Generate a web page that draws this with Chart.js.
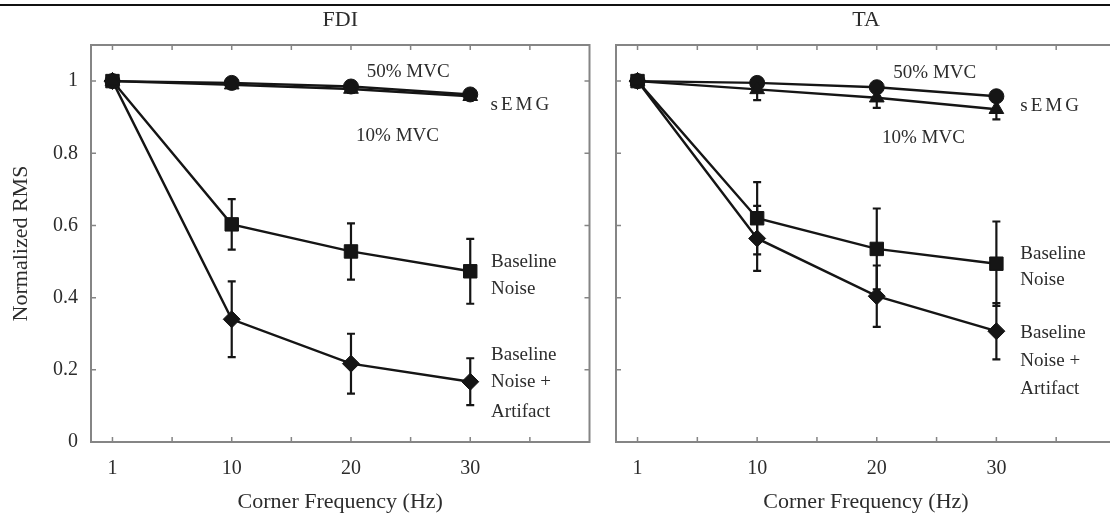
<!DOCTYPE html>
<html>
<head>
<meta charset="utf-8">
<title>Normalized RMS vs corner frequency</title>
<script src="https://cdn.jsdelivr.net/npm/chart.js@4.4.1/dist/chart.umd.min.js"></script>
<style>
body {
	margin: 0;
	width: 1110px;
	height: 515px;
	overflow: hidden;
	background: white;
	position: relative;
}
#left { position: absolute; left: 0; top: 0; }
#right { position: absolute; left: 600px; top: 0; }
#topline {
	position: absolute;
	left: 0;
	top: 4px;
	width: 1110px;
	border-top: 2px solid #111;
}
</style>
</head>
<body>
<canvas id="left" width="600" height="515"></canvas>
<canvas id="right" width="530" height="515"></canvas>
<div id="topline"></div>

<script>
// x categories (corner frequency, Hz) and axis ticks
var categories = ['1', '10', '20', '30'];
var yTickValues = [0, 0.2, 0.4, 0.6, 0.8, 1];
var yTickLabels = ['0', '0.2', '0.4', '0.6', '0.8', '1'];
var xTickValues = [0, 0.5, 1, 1.5, 2, 2.5, 3, 3.5];

// FDI panel
var fdiMvc50 = [1.0, 0.995, 0.985, 0.963];
var fdiMvc50Err = [0, 0, 0, 0];
var fdiMvc10 = [1.0, 0.99, 0.978, 0.958];
var fdiMvc10Err = [0, 0.01, 0.01, 0.01];
var fdiNoise = [1.0, 0.603, 0.528, 0.473];
var fdiNoiseErr = [0, 0.07, 0.078, 0.09];
var fdiArtifact = [1.0, 0.34, 0.217, 0.167];
var fdiArtifactErr = [0, 0.105, 0.083, 0.065];

// TA panel
var taMvc50 = [1.0, 0.995, 0.983, 0.958];
var taMvc50Err = [0, 0, 0, 0];
var taMvc10 = [1.0, 0.977, 0.954, 0.922];
var taMvc10Err = [0, 0.03, 0.028, 0.028];
var taNoise = [1.0, 0.62, 0.535, 0.494];
var taNoiseErr = [0, 0.1, 0.112, 0.117];
var taArtifact = [1.0, 0.564, 0.404, 0.307];
var taArtifactErr = [0, 0.09, 0.085, 0.078];

// text labels inside the plots: text, x (category index), y (value), align
var fdiNotes = [
	['50% MVC', 2.48, 1.025, 'center'],
	['10% MVC', 2.39, 0.848, 'center'],
	['sEMG', 3.17, 0.934, 'left'],
	['Baseline', 3.175, 0.50, 'left'],
	['Noise', 3.175, 0.423, 'left'],
	['Baseline', 3.175, 0.24, 'left'],
	['Noise +', 3.175, 0.166, 'left'],
	['Artifact', 3.175, 0.083, 'left']
];
var taNotes = [
	['50% MVC', 2.485, 1.022, 'center'],
	['10% MVC', 2.39, 0.843, 'center'],
	['sEMG', 3.2, 0.931, 'left'],
	['Baseline', 3.2, 0.522, 'left'],
	['Noise', 3.2, 0.448, 'left'],
	['Baseline', 3.2, 0.301, 'left'],
	['Noise +', 3.2, 0.224, 'left'],
	['Artifact', 3.2, 0.146, 'left']
];

var SERIF = '"Liberation Serif", "DejaVu Serif", serif';
var TEXT = '#2c2c2c';
var LINE = '#151515';
var FRAME = '#858585';

function toPoints(values) {
	return values.map(function (v, i) { return {x: i, y: v}; });
}

function series(values, errors, style, radius) {
	return {
		data: toPoints(values),
		errors: errors,
		borderColor: LINE,
		backgroundColor: LINE,
		borderWidth: 2.4,
		pointStyle: style,
		pointRadius: radius,
		pointBorderWidth: 1,
		pointBackgroundColor: LINE,
		pointBorderColor: LINE,
		tension: 0
	};
}

// frame + inward tick marks
var framePlugin = {
	id: 'frame',
	beforeDatasetsDraw: function (chart) {
		var ctx = chart.ctx, a = chart.chartArea;
		var x = chart.scales.x, y = chart.scales.y;
		ctx.save();
		ctx.strokeStyle = FRAME;
		ctx.lineWidth = 2;
		ctx.strokeRect(a.left, a.top, a.right - a.left, a.bottom - a.top);
		ctx.lineWidth = 1.5;
		ctx.beginPath();
		xTickValues.forEach(function (v) {
			var px = x.getPixelForValue(v);
			ctx.moveTo(px, a.bottom); ctx.lineTo(px, a.bottom - 5);
			ctx.moveTo(px, a.top); ctx.lineTo(px, a.top + 5);
		});
		yTickValues.forEach(function (v) {
			var py = y.getPixelForValue(v);
			ctx.moveTo(a.left, py); ctx.lineTo(a.left + 5, py);
			ctx.moveTo(a.right, py); ctx.lineTo(a.right - 5, py);
		});
		ctx.stroke();
		ctx.restore();
	}
};

var errorBarPlugin = {
	id: 'errorBars',
	beforeDatasetsDraw: function (chart) {
		var ctx = chart.ctx;
		var x = chart.scales.x, y = chart.scales.y;
		ctx.save();
		ctx.strokeStyle = LINE;
		ctx.lineWidth = 2.2;
		chart.data.datasets.forEach(function (ds) {
			ds.data.forEach(function (p, i) {
				var e = ds.errors[i];
				if (!e) return;
				var px = x.getPixelForValue(p.x);
				var top = y.getPixelForValue(p.y + e);
				var bot = y.getPixelForValue(p.y - e);
				ctx.beginPath();
				ctx.moveTo(px, top); ctx.lineTo(px, bot);
				ctx.moveTo(px - 4, top); ctx.lineTo(px + 4, top);
				ctx.moveTo(px - 4, bot); ctx.lineTo(px + 4, bot);
				ctx.stroke();
			});
		});
		ctx.restore();
	}
};

var notesPlugin = {
	id: 'notes',
	afterDraw: function (chart) {
		var ctx = chart.ctx;
		var x = chart.scales.x, y = chart.scales.y;
		var notes = chart.options.plugins.notes.items;
		ctx.save();
		ctx.fillStyle = TEXT;
		ctx.font = '19px ' + SERIF;
		ctx.textBaseline = 'middle';
		notes.forEach(function (n) {
			ctx.letterSpacing = n[0] == 'sEMG' ? '3px' : '0px';
			ctx.textAlign = n[3];
			ctx.fillText(n[0], x.getPixelForValue(n[1]), y.getPixelForValue(n[2]));
		});
		ctx.restore();
	}
};

function makePanel(id, title, datasets, notes, showY, yWidth, padRight) {
	var ctx = document.getElementById(id).getContext('2d');
	return new Chart(ctx, {
		type: 'line',
		data: {datasets: datasets},
		plugins: [framePlugin, errorBarPlugin, notesPlugin],
		options: {
			responsive: false,
			animation: false,
			layout: {padding: {left: 0, right: padRight, top: 0, bottom: 0}},
			plugins: {
				legend: {display: false},
				tooltip: {enabled: false},
				notes: {items: notes},
				title: {
					display: true,
					text: title,
					fullSize: false,
					color: TEXT,
					font: {family: SERIF, size: 22, weight: 'normal'},
					padding: {top: 7, bottom: 11.6}
				}
			},
			scales: {
				x: {
					type: 'linear',
					min: -0.18,
					max: 4,
					grid: {display: false, drawTicks: false},
					border: {display: false},
					afterBuildTicks: function (s) {
						s.ticks = xTickValues.map(function (v) { return {value: v}; });
					},
					afterFit: function (s) { s.height = 73; },
					ticks: {
						autoSkip: false,
						maxRotation: 0,
						padding: 15,
						color: TEXT,
						font: {family: SERIF, size: 20},
						callback: function (v) {
							return Number.isInteger(v) && v < categories.length ? categories[v] : '';
						}
					},
					title: {
						display: true,
						text: 'Corner Frequency (Hz)',
						color: TEXT,
						font: {family: SERIF, size: 22},
						padding: 0
					}
				},
				y: {
					min: 0,
					max: 1.1,
					grid: {display: false, drawTicks: false},
					border: {display: false},
					afterBuildTicks: function (s) {
						s.ticks = yTickValues.map(function (v) { return {value: v}; });
					},
					afterFit: function (s) { s.width = yWidth; },
					ticks: {
						display: showY,
						padding: 13,
						color: TEXT,
						font: {family: SERIF, size: 20},
						callback: function (v) {
							var i = yTickValues.indexOf(v);
							return i >= 0 ? yTickLabels[i] : '';
						}
					},
					title: {
						display: showY,
						text: 'Normalized RMS',
						color: TEXT,
						font: {family: SERIF, size: 22},
						padding: {top: 8, bottom: 0}
					}
				}
			}
		}
	});
}

makePanel('left', 'FDI', [
	series(fdiMvc10, fdiMvc10Err, 'triangle', 8.5),
	series(fdiMvc50, fdiMvc50Err, 'circle', 7.5),
	series(fdiNoise, fdiNoiseErr, 'rect', 9.5),
	series(fdiArtifact, fdiArtifactErr, 'rectRot', 8.5)
], fdiNotes, true, 91, 7);

makePanel('right', 'TA', [
	series(taMvc10, taMvc10Err, 'triangle', 8.5),
	series(taMvc50, taMvc50Err, 'circle', 7.5),
	series(taNoise, taNoiseErr, 'rect', 9.5),
	series(taArtifact, taArtifactErr, 'rectRot', 8.5)
], taNotes, false, 16, 14);
</script>
</body>
</html>
